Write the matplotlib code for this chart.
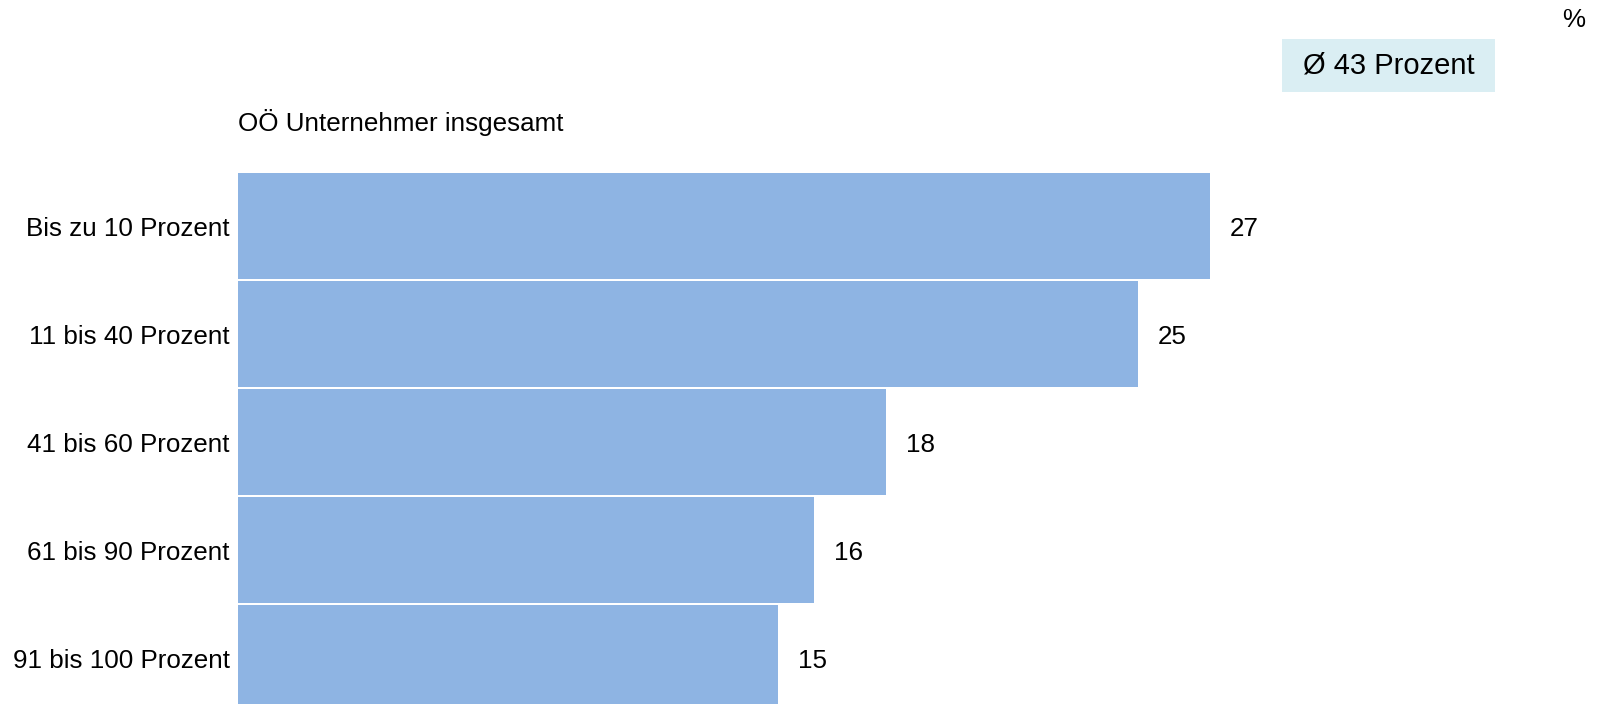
import matplotlib.pyplot as plt
from matplotlib.patches import Rectangle

plt.rcParams['font.family'] = ['Liberation Sans', 'DejaVu Sans']

kategorien = ['Bis zu 10 Prozent', '11 bis 40 Prozent', '41 bis 60 Prozent',
              '61 bis 90 Prozent', '91 bis 100 Prozent']
werte = [27, 25, 18, 16, 15]
durchschnitt = 'Ø 43 Prozent'
untertitel = 'OÖ Unternehmer insgesamt'

W, H = 1598, 704
fs = 18.7
fig = plt.figure(figsize=(W / 100, H / 100), dpi=100)

# achse in pixelkoordinaten festlegen
links, rechts = 238, 238 + 36 * 35
oben, unten = 171, 704
ax = fig.add_axes([links / W, 1 - unten / H, (rechts - links) / W, (unten - oben) / H])

pos = list(range(len(werte)))
ax.barh(pos, werte, height=0.98, color='#8EB4E3', edgecolor='none')
ax.set_xlim(0, 35)
ax.set_ylim(-0.51 + (unten - oben) / 108, -0.51)

for p, w in zip(pos, werte):
    ax.text(w + 0.55, p + 0.03, str(w), va='center', ha='left', fontsize=fs)

ax.set_yticks(pos)
ax.set_yticklabels(kategorien, fontsize=fs)
ax.tick_params(axis='y', length=0, pad=6)
ax.set_xticks([])
for s in ax.spines.values():
    s.set_visible(False)

fig.text(links / W, 1 - 123 / H, untertitel, fontsize=fs, va='center', ha='left')
fig.text(1574 / W, 1 - 20 / H, '%', fontsize=fs, va='center', ha='center')

fig.patches.append(Rectangle((1282 / W, 1 - 92 / H), (1495 - 1282) / W, 53 / H,
                             transform=fig.transFigure, facecolor='#DAEEF3',
                             edgecolor='none'))
fig.text((1282 + 1495) / 2 / W, 1 - 66 / H, durchschnitt, fontsize=21,
         va='center', ha='center')

fig.savefig('out.png', dpi=100)
